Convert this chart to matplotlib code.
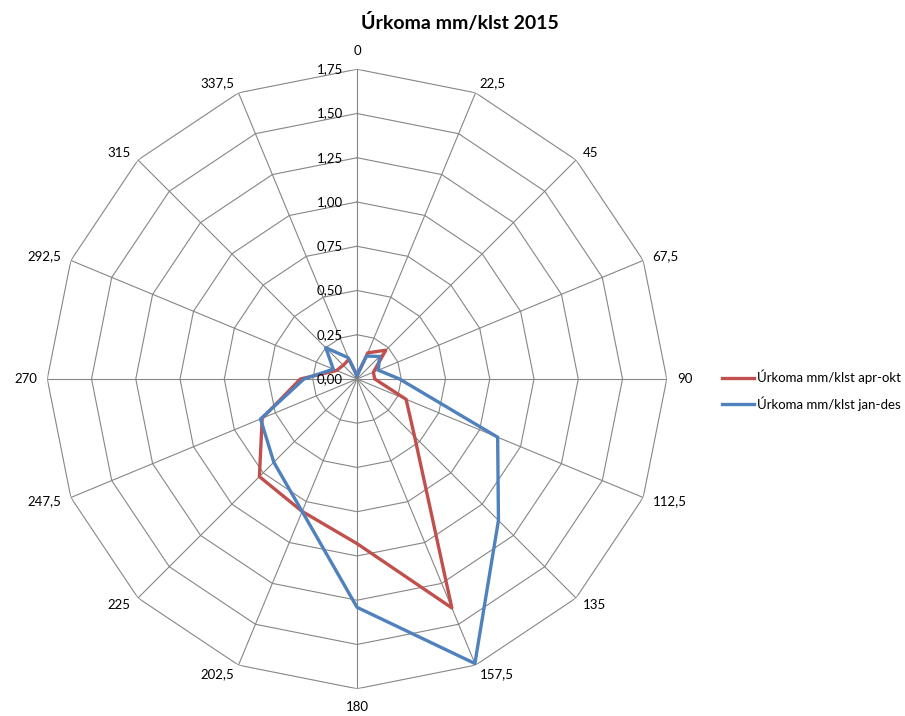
import numpy as np
import matplotlib.pyplot as plt

plt.rcParams['font.family'] = ['Lato', 'DejaVu Sans']

# Stefnur (gráður) og gildi lesin af myndinni
stefnur = [0, 22.5, 45, 67.5, 90, 112.5, 135, 157.5,
           180, 202.5, 225, 247.5, 270, 292.5, 315, 337.5]
stefnu_merki = ['0', '22,5', '45', '67,5', '90', '112,5', '135', '157,5',
                '180', '202,5', '225', '247,5', '270', '292,5', '315', '337,5']
apr_okt = [0.02, 0.16, 0.23, 0.10, 0.10, 0.30, 0.46, 1.40,
           0.93, 0.81, 0.78, 0.58, 0.32, 0.125, 0.11, 0.12]
jan_des = [0.02, 0.14, 0.18, 0.13, 0.24, 0.86, 1.13, 1.74,
           1.29, 0.81, 0.665, 0.59, 0.30, 0.145, 0.25, 0.13]
hringir = [0.25, 0.50, 0.75, 1.00, 1.25, 1.50, 1.75]
hringir_merki = ['0,00', '0,25', '0,50', '0,75', '1,00', '1,25', '1,50', '1,75']

rautt = '#C0504D'
blatt = '#4F81BD'
grar = '#868686'

theta = np.deg2rad(stefnur)
theta_lok = np.append(theta, theta[0])

fig = plt.figure(figsize=(9.05, 7.16), dpi=100)
ax = fig.add_axes([0.0522, 0.0381, 0.6846, 0.8652], projection='polar')
ax.set_theta_zero_location('N')
ax.set_theta_direction(-1)
ax.set_ylim(0, 1.75)
ax.grid(False)
ax.set_xticks([])
ax.set_yticks([])
ax.spines['polar'].set_visible(False)

# Marghyrnt net eins og í Excel
for r in hringir:
    ax.plot(theta_lok, [r] * len(theta_lok), color=grar, lw=0.8, zorder=1)
for t in theta:
    ax.plot([t, t], [0, 1.75], color=grar, lw=0.8, zorder=1)

ax.plot(theta_lok, np.append(apr_okt, apr_okt[0]), color=rautt, lw=2.4,
        label='Úrkoma mm/klst apr-okt', zorder=3)
ax.plot(theta_lok, np.append(jan_des, jan_des[0]), color=blatt, lw=2.4,
        label='Úrkoma mm/klst jan-des', zorder=4)

# Merki stefna
for t, m in zip(theta, stefnu_merki):
    s, c = np.sin(t), np.cos(t)
    ha = 'left' if s > 0.1 else ('right' if s < -0.1 else 'center')
    if abs(s) <= 0.1:
        va = 'bottom' if c > 0 else 'top'
        off = (0, 12 * np.sign(c))
    else:
        va = 'center'
        off = (10 * s, 10 * c)
    ax.annotate(m, xy=(t, 1.75), xytext=off, textcoords='offset pixels',
                ha=ha, va=va, fontsize=9.5, annotation_clip=False)

# Merki á geislaás
for r, m in zip([0] + hringir, hringir_merki):
    ax.annotate(m, xy=(0, r), xytext=(-14, 0), textcoords='offset pixels',
                ha='right', va='center', fontsize=9.5, zorder=5)

fig.text(0.508, 0.969, 'Úrkoma mm/klst 2015', ha='center', va='center',
         fontsize=14, fontweight='bold')

fig.legend(loc='center left', bbox_to_anchor=(0.785, 0.455), frameon=False,
           fontsize=9.5, handlelength=2.4, handletextpad=0.25, labelspacing=0.9)

fig.savefig('out.png', dpi=100)
